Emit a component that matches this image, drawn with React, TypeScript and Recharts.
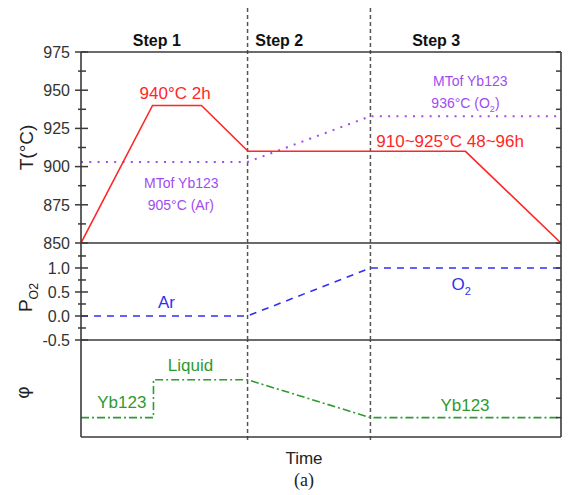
import React from "react";
import { LineChart, Line, XAxis, YAxis, ReferenceLine, ReferenceDot } from "recharts";

const FONT = "'Liberation Sans', Arial, Helvetica, sans-serif";
const SERIF = "'Liberation Serif', 'Times New Roman', serif";
const AXIS = "#3a3a3a";
const RED = "#ff2626";
const PURPLE = "#a14cf0";
const BLUE = "#2f2ff5";
const GREEN = "#2f9a2f";
const STEP_LINE = "#555";

// time is on an arbitrary 0-100 scale
const STEP_BOUNDS = [34.7, 60.3];
const STEP_NAMES = ["Step 1", "Step 2", "Step 3"];
const STEP_LABEL_AT = [15.8, 41.3, 74];

const TEMP_TIME = [0, 14.9, 25.1, 34.8, 80.1, 100];
const TEMP_C = [850, 940, 940, 910, 910, 850];

const MELT_TIME = [0, 34.7, 60.3, 100];
const MELT_C = [903, 903, 933, 933];

const PO2_TIME = [0, 34.7, 60.3, 100];
const PO2_VALUES = [0, 0, 1, 1];

const PHASE_TIME = [0, 15.1, 15.1, 34.7, 60.3, 100];
const PHASE_LEVEL = [0.2, 0.2, 0.59, 0.59, 0.2, 0.2];

const T_TICKS = [850, 862.5, 875, 887.5, 900, 912.5, 925, 937.5, 950, 962.5, 975];
const P_TICKS = [-0.5, -0.25, 0, 0.25, 0.5, 0.75, 1, 1.25];
const PHI_TICKS = [0.2, 0.4, 0.6, 0.8];

const zip = (xs: number[], ys: number[]) => xs.map((t, i) => ({ t, v: ys[i] }));

const tempData = zip(TEMP_TIME, TEMP_C);
const meltData = zip(MELT_TIME, MELT_C);
const po2Data = zip(PO2_TIME, PO2_VALUES);
const phaseData = zip(PHASE_TIME, PHASE_LEVEL);

type Part = { t: string; sub?: boolean };
type NoteDef = { x: number; y: number; parts: Part[]; color: string; size: number };

const TEMP_NOTES: NoteDef[] = [
  { x: 19.6, y: 948.4, parts: [{ t: "940°C 2h" }], color: RED, size: 17 },
  { x: 20.9, y: 889.3, parts: [{ t: "MTof Yb123" }], color: PURPLE, size: 14 },
  { x: 20.8, y: 874.9, parts: [{ t: "905°C (Ar)" }], color: PURPLE, size: 14 },
  { x: 81.1, y: 956, parts: [{ t: "MTof Yb123" }], color: PURPLE, size: 14 },
  { x: 80.1, y: 941.8, parts: [{ t: "936°C (O" }, { t: "2", sub: true }, { t: ")" }], color: PURPLE, size: 14 },
  { x: 76.9, y: 917, parts: [{ t: "910~925°C 48~96h" }], color: RED, size: 17 },
];

const PO2_NOTES: NoteDef[] = [
  { x: 17.8, y: 0.3, parts: [{ t: "Ar" }], color: BLUE, size: 17 },
  { x: 79.2, y: 0.66, parts: [{ t: "O" }, { t: "2", sub: true }], color: BLUE, size: 17 },
];

const PHASE_NOTES: NoteDef[] = [
  { x: 22.8, y: 0.742, parts: [{ t: "Liquid" }], color: GREEN, size: 17 },
  { x: 8.5, y: 0.358, parts: [{ t: "Yb123" }], color: GREEN, size: 17 },
  { x: 80, y: 0.33, parts: [{ t: "Yb123" }], color: GREEN, size: 17 },
];

const renderParts = (parts: Part[], size: number) => {
  const shift = Math.round(size * 0.3);
  let wasSub = false;
  return parts.map((p, i) => {
    const dy = p.sub ? shift : wasSub ? -shift : 0;
    wasSub = !!p.sub;
    return (
      <tspan key={i} dy={dy} fontSize={p.sub ? size * 0.65 : size}>
        {p.t}
      </tspan>
    );
  });
};

const Note = (props: any) => {
  const { viewBox, parts, color, size } = props;
  if (!viewBox) return null;
  const x = viewBox.x + viewBox.width / 2;
  const y = viewBox.y + viewBox.height / 2 + size * 0.36;
  return (
    <text x={x} y={y} textAnchor="middle" fill={color} fontSize={size} fontFamily={FONT}>
      {renderParts(parts, size)}
    </text>
  );
};

const AxisTitle = (props: any) => {
  const { viewBox, parts, left, shiftY = 0, size = 19 } = props;
  if (!viewBox) return null;
  const cx = left;
  const cy = viewBox.y + viewBox.height / 2 + shiftY;
  return (
    <text
      x={cx}
      y={cy + size * 0.36}
      transform={`rotate(-90 ${cx} ${cy})`}
      textAnchor="middle"
      fill="#222"
      fontSize={size}
      fontFamily={FONT}
    >
      {renderParts(parts, size)}
    </text>
  );
};

const LeftTick = (props: any) => {
  const { x, y, payload, isMajor, format } = props;
  const major = isMajor(payload.value);
  return (
    <g>
      <line x1={x - (major ? 6 : 3)} x2={x + (major ? 7 : 5)} y1={y} y2={y} stroke={AXIS} strokeWidth={1.5} />
      {major && (
        <text x={x - 11} y={y} dy="0.36em" textAnchor="end" fill="#333" fontSize={16} fontFamily={FONT}>
          {format(payload.value)}
        </text>
      )}
    </g>
  );
};

const RightTick = (props: any) => {
  const { x, y } = props;
  return <line x1={x - 5} x2={x} y1={y} y2={y} stroke={AXIS} strokeWidth={1.5} />;
};

const StepTick = (props: any) => {
  const { x, y, payload } = props;
  return (
    <text x={x} y={y - 6} textAnchor="middle" fill="#111" fontSize={16} fontWeight="bold" fontFamily={FONT}>
      {STEP_NAMES[STEP_LABEL_AT.indexOf(payload.value)]}
    </text>
  );
};

const TimeTitle = (props: any) => {
  const { viewBox } = props;
  if (!viewBox) return null;
  const cx = viewBox.x + viewBox.width / 2 - 17;
  return (
    <g>
      <text x={cx} y={viewBox.y + 27} textAnchor="middle" fill="#222" fontSize={17} fontFamily={FONT}>
        Time
      </text>
      <text x={cx} y={viewBox.y + 49} textAnchor="middle" fill="#222" fontSize={18} fontFamily={SERIF}>
        (a)
      </text>
    </g>
  );
};

const notes = (list: NoteDef[]) =>
  list.map((n, i) => (
    <ReferenceDot
      key={`note-${i}`}
      x={n.x}
      y={n.y}
      r={0}
      fill="none"
      stroke="none"
      ifOverflow="visible"
      label={(p: any) => <Note {...p} parts={n.parts} color={n.color} size={n.size} />}
    />
  ));

const W = 568;

export default function App() {
  return (
    <div style={{ position: "absolute", left: 0, top: 0, width: W, height: 495, background: "#fff" }}>
      {/* phase panel */}
      <div style={{ position: "absolute", left: 0, top: 330 }}>
        <LineChart width={W} height={165} margin={{ top: 10, right: 0, bottom: 28, left: 0 }}>
          <XAxis
            dataKey="t"
            type="number"
            domain={[0, 100]}
            allowDataOverflow
            height={30}
            tick={false}
            tickLine={false}
            axisLine={{ stroke: AXIS, strokeWidth: 1.6 }}
            label={(p: any) => <TimeTitle {...p} />}
          />
          <YAxis
            type="number"
            domain={[0, 1]}
            allowDataOverflow
            width={81}
            tick={false}
            tickLine={false}
            axisLine={{ stroke: AXIS, strokeWidth: 1.6 }}
            label={(p: any) => <AxisTitle {...p} left={22} shiftY={4} parts={[{ t: "φ" }]} />}
          />
          <YAxis
            yAxisId="r"
            orientation="right"
            type="number"
            domain={[0, 1]}
            allowDataOverflow
            width={7}
            ticks={PHI_TICKS}
            interval={0}
            tickLine={false}
            tickSize={0}
            tickMargin={0}
            axisLine={{ stroke: AXIS, strokeWidth: 1.6 }}
            tick={(p: any) => <RightTick {...p} />}
          />
          {STEP_BOUNDS.map((b) => (
            <ReferenceLine
              key={`s3-${b}`}
              segment={[{ x: b, y: -0.03 }, { x: b, y: 1 }]}
              stroke={STEP_LINE}
              strokeWidth={1.5}
              strokeDasharray="4 3"
              ifOverflow="visible"
            />
          ))}
          <Line
            data={phaseData}
            dataKey="v"
            type="linear"
            stroke={GREEN}
            strokeWidth={1.6}
            strokeDasharray="8 3 2 3"
            dot={false}
            isAnimationActive={false}
          />
          {notes(PHASE_NOTES)}
        </LineChart>
      </div>

      {/* oxygen partial pressure panel */}
      <div style={{ position: "absolute", left: 0, top: 233 }}>
        <LineChart width={W} height={117} margin={{ top: 10, right: 0, bottom: 10, left: 0 }}>
          <XAxis dataKey="t" type="number" domain={[0, 100]} allowDataOverflow hide />
          <YAxis
            type="number"
            domain={[-0.5, 1.52]}
            allowDataOverflow
            width={81}
            ticks={P_TICKS}
            interval={0}
            tickLine={false}
            tickSize={0}
            tickMargin={0}
            axisLine={{ stroke: AXIS, strokeWidth: 1.6 }}
            tick={(p: any) => (
              <LeftTick
                {...p}
                isMajor={(v: number) => Math.abs(v * 2 - Math.round(v * 2)) < 1e-6}
                format={(v: number) => v.toFixed(1)}
              />
            )}
            label={(p: any) => (
              <AxisTitle {...p} left={25} shiftY={6} parts={[{ t: "P" }, { t: "O2", sub: true }]} />
            )}
          />
          <YAxis
            yAxisId="r"
            orientation="right"
            type="number"
            domain={[-0.5, 1.52]}
            allowDataOverflow
            width={7}
            ticks={P_TICKS}
            interval={0}
            tickLine={false}
            tickSize={0}
            tickMargin={0}
            axisLine={{ stroke: AXIS, strokeWidth: 1.6 }}
            tick={(p: any) => <RightTick {...p} />}
          />
          <ReferenceLine y={-0.5} stroke={AXIS} strokeWidth={1.6} />
          {STEP_BOUNDS.map((b) => (
            <ReferenceLine key={`s2-${b}`} x={b} stroke={STEP_LINE} strokeWidth={1.5} strokeDasharray="4 3" />
          ))}
          <Line
            data={po2Data}
            dataKey="v"
            type="linear"
            stroke={BLUE}
            strokeWidth={1.6}
            strokeDasharray="7 6"
            dot={false}
            isAnimationActive={false}
          />
          {notes(PO2_NOTES)}
        </LineChart>
      </div>

      {/* temperature panel */}
      <div style={{ position: "absolute", left: 0, top: 0 }}>
        <LineChart width={W} height={262} margin={{ top: 0, right: 0, bottom: 19, left: 0 }}>
          <XAxis
            dataKey="t"
            type="number"
            domain={[0, 100]}
            allowDataOverflow
            orientation="top"
            height={52}
            ticks={STEP_LABEL_AT}
            interval={0}
            tickLine={false}
            tickSize={0}
            tickMargin={0}
            tick={(p: any) => <StepTick {...p} />}
            axisLine={{ stroke: AXIS, strokeWidth: 1.6 }}
          />
          <YAxis
            type="number"
            domain={[850, 975]}
            allowDataOverflow
            width={81}
            ticks={T_TICKS}
            interval={0}
            tickLine={false}
            tickSize={0}
            tickMargin={0}
            axisLine={{ stroke: AXIS, strokeWidth: 1.6 }}
            tick={(p: any) => (
              <LeftTick {...p} isMajor={(v: number) => v % 25 === 0} format={(v: number) => String(v)} />
            )}
            label={(p: any) => <AxisTitle {...p} left={26} parts={[{ t: "T(°C)" }]} />}
          />
          <YAxis
            yAxisId="r"
            orientation="right"
            type="number"
            domain={[850, 975]}
            allowDataOverflow
            width={7}
            ticks={T_TICKS}
            interval={0}
            tickLine={false}
            tickSize={0}
            tickMargin={0}
            axisLine={{ stroke: AXIS, strokeWidth: 1.6 }}
            tick={(p: any) => <RightTick {...p} />}
          />
          <ReferenceLine y={850} stroke={AXIS} strokeWidth={1.6} />
          {STEP_BOUNDS.map((b) => (
            <ReferenceLine
              key={`s1-${b}`}
              segment={[{ x: b, y: 850 }, { x: b, y: 1005 }]}
              stroke={STEP_LINE}
              strokeWidth={1.5}
              strokeDasharray="4 3"
              ifOverflow="visible"
            />
          ))}
          <Line
            data={meltData}
            dataKey="v"
            type="linear"
            stroke={PURPLE}
            strokeWidth={2}
            strokeDasharray="2 6.3"
            dot={false}
            isAnimationActive={false}
          />
          <Line
            data={tempData}
            dataKey="v"
            type="linear"
            stroke={RED}
            strokeWidth={1.6}
            dot={false}
            isAnimationActive={false}
          />
          {notes(TEMP_NOTES)}
        </LineChart>
      </div>
    </div>
  );
}
